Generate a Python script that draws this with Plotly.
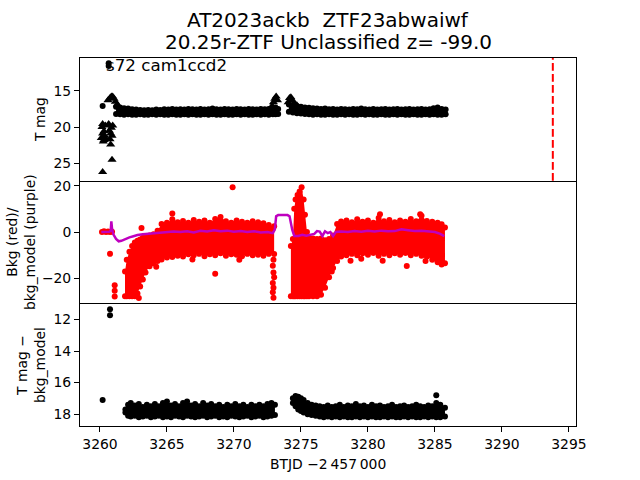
import plotly.graph_objects as go
from plotly.subplots import make_subplots

# ---------------- TOP PANEL : T mag ----------------
top_b1_t = [3261.2, 3261.5, 3261.8, 3262.1, 3262.4, 3262.7, 3263.0, 3263.3, 3263.6, 3263.9,
            3264.2, 3264.5, 3264.8, 3265.1, 3265.4, 3265.7, 3266.0, 3266.3, 3266.6, 3266.9,
            3267.2, 3267.5, 3267.8, 3268.1, 3268.4, 3268.7, 3269.0, 3269.3, 3269.6, 3269.9,
            3270.2, 3270.5, 3270.8, 3271.1, 3271.4, 3271.7, 3272.0, 3272.3, 3272.6, 3272.9,
            3273.1, 3273.3]
top_b1_hi = [17.2, 17.3, 17.4, 17.45, 17.55, 17.6, 17.65, 17.7, 17.65, 17.7,
             17.6, 17.65, 17.55, 17.6, 17.5, 17.6, 17.55, 17.6, 17.5, 17.55,
             17.6, 17.5, 17.6, 17.55, 17.45, 17.55, 17.6, 17.5, 17.55, 17.6,
             17.5, 17.55, 17.6, 17.5, 17.55, 17.6, 17.5, 17.55, 17.5, 17.4,
             17.3, 17.5]
top_b1_lo = [18.2, 18.25, 18.3, 18.25, 18.3, 18.3, 18.25, 18.3, 18.3, 18.25,
             18.3, 18.25, 18.3, 18.3, 18.25, 18.3, 18.3, 18.25, 18.3, 18.25,
             18.3, 18.3, 18.25, 18.3, 18.25, 18.3, 18.3, 18.25, 18.3, 18.3,
             18.25, 18.3, 18.25, 18.3, 18.3, 18.25, 18.3, 18.25, 18.3, 18.25,
             18.25, 18.2]
top_b2_t = [3274.1, 3274.4, 3274.7, 3275.0, 3275.3, 3275.6, 3275.9, 3276.2, 3276.5, 3276.8,
            3277.1, 3277.4, 3277.7, 3278.0, 3278.3, 3278.6, 3278.9, 3279.2, 3279.5, 3279.8,
            3280.1, 3280.4, 3280.7, 3281.0, 3281.3, 3281.6, 3281.9, 3282.2, 3282.5, 3282.8,
            3283.1, 3283.4, 3283.7, 3284.0, 3284.3, 3284.6, 3284.9, 3285.2, 3285.5, 3285.8]
top_b2_hi = [16.9, 17.0, 17.1, 17.2, 17.3, 17.35, 17.4, 17.45, 17.5, 17.45,
             17.55, 17.5, 17.6, 17.5, 17.55, 17.6, 17.5, 17.55, 17.45, 17.55,
             17.6, 17.5, 17.6, 17.55, 17.5, 17.6, 17.55, 17.5, 17.6, 17.55,
             17.5, 17.6, 17.55, 17.5, 17.6, 17.55, 17.4, 17.3, 17.5, 17.6]
top_b2_lo = [17.9, 18.0, 18.1, 18.15, 18.2, 18.25, 18.3, 18.25, 18.3, 18.3,
             18.25, 18.3, 18.3, 18.25, 18.3, 18.25, 18.3, 18.3, 18.25, 18.3,
             18.25, 18.3, 18.3, 18.25, 18.3, 18.3, 18.25, 18.3, 18.25, 18.3,
             18.3, 18.25, 18.3, 18.3, 18.25, 18.3, 18.25, 18.3, 18.3, 18.25]
tri_t = [3260.1, 3260.15, 3260.2, 3260.25, 3260.3, 3260.35, 3260.4, 3260.45, 3260.2, 3260.3,
         3260.2, 3260.65, 3260.7, 3260.75, 3260.8, 3260.85, 3260.9, 3260.95, 3260.8, 3260.9,
         3260.6, 3260.75, 3260.85, 3260.95, 3261.05, 3261.15, 3261.3,
         3272.85, 3272.95, 3273.05, 3273.15, 3273.25,
         3274.05, 3274.15, 3274.25, 3274.35, 3274.5, 3274.7]
tri_m = [21.5, 20.0, 19.6, 22.0, 20.6, 21.2, 19.8, 21.7, 20.9, 21.8,
         26.2, 19.6, 20.5, 21.7, 22.4, 20.1, 21.2, 19.8, 20.9, 24.5,
         16.3, 16.0, 15.8, 15.8, 16.1, 16.5, 16.9,
         17.1, 16.6, 16.1, 15.8, 16.3,
         16.6, 16.0, 15.9, 16.3, 16.7, 17.0]
det_t = [3260.2, 3260.65, 3260.65]
det_m = [17.1, 11.2, 11.6]
vline_x = 3293.8

# ---------------- MIDDLE PANEL : Bkg / bkg_model ----------------
bkg_s1_t = [3261.87, 3262.0, 3262.2, 3262.4, 3262.6, 3262.8, 3263.0, 3263.2, 3263.4, 3263.7,
            3264.0, 3264.3, 3264.6, 3265.0, 3265.4, 3265.8, 3266.2, 3266.6, 3267.0, 3267.4,
            3267.8, 3268.2, 3268.6, 3269.0, 3269.4, 3269.8, 3270.2, 3270.6, 3271.0, 3271.4,
            3271.8, 3272.2, 3272.6, 3273.0]
bkg_s1_hi = [-17.0, -12.0, -8.5, -6.0, -4.5, -3.8, -3.2, -2.5, -2.0, -1.5,
             -1.0, 0.5, 3.5, 4.0, 5.5, 4.2, 4.8, 4.0, 5.2, 4.4,
             5.0, 4.0, 5.6, 6.5, 4.6, 4.0, 5.0, 4.4, 4.0, 4.6,
             4.2, 3.8, 3.0, 2.5]
bkg_s1_lo = [-27.7, -27.7, -27.7, -27.7, -27.7, -26.5, -23.5, -20.5, -17.5, -14.8,
             -13.5, -12.5, -11.8, -11.0, -10.8, -10.2, -10.6, -9.6, -10.0, -9.4,
             -10.4, -9.6, -10.0, -9.2, -10.2, -9.6, -9.8, -10.4, -9.4, -10.0,
             -9.8, -10.2, -9.4, -9.5]
bkg_s2_t = [3274.25, 3274.4, 3274.5, 3274.6, 3274.75, 3274.9, 3275.05, 3275.2, 3275.3, 3275.45,
            3275.6, 3275.9, 3276.2, 3276.5, 3276.8, 3277.1, 3277.4, 3277.7, 3278.0, 3278.4,
            3278.8, 3279.2, 3279.6, 3280.0, 3280.4, 3280.8, 3281.2, 3281.6, 3282.0, 3282.4,
            3282.8, 3283.2, 3283.6, 3284.0, 3284.4, 3284.8, 3285.2, 3285.5, 3285.75]
bkg_s2_hi = [-6.0, -3.0, 10.0, 14.0, 16.0, 17.5, 19.3, 14.0, 7.5, 0.0,
             -2.5, -2.8, -3.0, -2.8, -3.5, -3.0, -1.5, 3.5, 4.5, 5.0,
             4.2, 5.5, 4.4, 5.0, 4.0, 6.0, 4.6, 5.2, 4.2, 5.0,
             4.4, 5.6, 4.6, 7.0, 4.8, 4.4, 4.0, 3.4, 2.0]
bkg_s2_lo = [-27.7, -27.7, -27.7, -27.7, -27.7, -27.7, -27.7, -27.7, -27.7, -27.7,
             -27.7, -27.7, -27.7, -27.0, -24.0, -19.5, -15.5, -12.5, -10.5, -10.0,
             -9.4, -10.0, -9.2, -9.8, -9.0, -10.2, -9.4, -10.0, -9.2, -9.8,
             -9.0, -10.0, -9.4, -10.2, -10.6, -12.0, -13.0, -14.0, -13.5]
bkg_pts_t = [3260.15, 3260.3, 3260.45, 3260.6, 3260.75, 3260.9, 3260.75, 3261.1, 3261.1, 3261.1,
             3263.1, 3265.4, 3269.9, 3268.6, 3272.95, 3272.9, 3272.95, 3273.0, 3272.9,
             3272.95, 3272.9, 3272.95, 3278.7, 3281.1, 3282.9, 3280.9, 3283.9,
             3262.9, 3264.2, 3266.9, 3270.4, 3276.0, 3277.3, 3279.5, 3284.3]
bkg_pts_v = [0.0, 0.3, 0.0, 0.2, 0.0, 0.1, -9.4, -23.0, -25.3, -27.8,
             1.7, 8.0, 19.3, -18.0, -12.0, -14.5, -17.5, -19.5, -22.0, -24.0,
             -26.0, -28.3, -12.4, -12.4, -14.6, 7.7, 7.7,
             -28.5, -15.0, -11.8, -12.0, -4.5, -17.0, -11.5, -12.5]
model_t = [3260.1, 3260.4, 3260.7, 3260.8, 3260.85, 3260.9, 3261.0, 3261.2, 3261.4, 3261.6,
           3261.9, 3262.2, 3262.5, 3262.8, 3263.2, 3263.6, 3264.0, 3264.5, 3265.0, 3265.5,
           3266.0, 3266.5, 3267.0, 3267.5, 3268.0, 3268.5, 3269.0, 3269.5, 3270.0, 3270.5,
           3271.0, 3271.5, 3272.0, 3272.5, 3272.9, 3273.05, 3273.15, 3273.3, 3274.0, 3274.15,
           3274.35, 3274.5, 3274.8, 3275.1, 3275.4, 3275.7, 3276.0, 3276.2, 3276.4, 3276.6,
           3276.8, 3277.0, 3277.2, 3277.4, 3277.6, 3278.0, 3278.5, 3279.0, 3279.5, 3280.0,
           3280.5, 3281.0, 3281.5, 3282.0, 3282.5, 3283.0, 3283.5, 3284.0, 3284.5, 3285.0,
           3285.4, 3285.7]
model_v = [0.0, 0.0, 0.1, 0.5, 4.6, 1.5, -1.0, -3.0, -4.0, -3.8,
           -3.0, -2.3, -1.8, -1.3, -1.0, -0.8, -0.5, -0.3, -0.1, 0.2,
           0.0, 0.3, -0.2, 0.5, 0.2, 0.8, 0.3, 0.6, 0.1, 0.4,
           0.0, 0.3, -0.2, 0.0, -0.5, 1.0, 6.8, 7.3, 7.3, 6.8,
           1.0, -1.7, -1.7, -1.2, -1.6, -1.3, -0.8, 0.4, 0.2, -1.7,
           0.3, -0.5, 0.0, -1.7, 0.0, 0.2, 0.0, 0.4, 0.1, 0.5,
           0.2, 0.6, 0.3, 0.4, 1.2, 0.8, 0.4, 0.6, 0.2, 0.0,
           -0.8, -1.8]

# ---------------- BOTTOM PANEL : T mag - bkg_model ----------------
dif_s1_t = [3261.9, 3262.1, 3262.3, 3262.6, 3262.9, 3263.2, 3263.5, 3263.8, 3264.1, 3264.4,
            3264.7, 3265.0, 3265.3, 3265.6, 3265.9, 3266.2, 3266.5, 3266.8, 3267.1, 3267.4,
            3267.7, 3268.0, 3268.3, 3268.6, 3268.9, 3269.2, 3269.5, 3269.8, 3270.1, 3270.4,
            3270.7, 3271.0, 3271.3, 3271.6, 3271.9, 3272.2, 3272.5, 3272.8, 3273.06]
dif_s1_hi = [17.7, 17.4, 17.3, 17.45, 17.35, 17.55, 17.4, 17.5, 17.35, 17.5,
             17.3, 17.2, 17.45, 17.35, 17.5, 17.3, 17.2, 17.45, 17.35, 17.5,
             17.3, 17.45, 17.35, 17.5, 17.4, 17.55, 17.4, 17.5, 17.35, 17.5,
             17.4, 17.55, 17.4, 17.5, 17.4, 17.5, 17.35, 17.3, 17.4]
dif_s1_lo = [17.9, 18.1, 18.15, 18.1, 18.2, 18.15, 18.1, 18.2, 18.15, 18.1,
             18.2, 18.15, 18.2, 18.1, 18.15, 18.2, 18.1, 18.15, 18.2, 18.15,
             18.1, 18.2, 18.15, 18.1, 18.2, 18.15, 18.2, 18.1, 18.15, 18.2,
             18.15, 18.1, 18.2, 18.15, 18.1, 18.2, 18.15, 18.1, 18.05]
dif_s2_t = [3274.4, 3274.6, 3274.8, 3275.0, 3275.2, 3275.5, 3275.8, 3276.1, 3276.4, 3276.7,
            3277.0, 3277.3, 3277.6, 3277.9, 3278.2, 3278.5, 3278.8, 3279.1, 3279.4, 3279.7,
            3280.0, 3280.3, 3280.6, 3280.9, 3281.2, 3281.5, 3281.8, 3282.1, 3282.4, 3282.7,
            3283.0, 3283.3, 3283.6, 3283.9, 3284.2, 3284.5, 3284.8, 3285.1, 3285.4, 3285.75]
dif_s2_hi = [17.0, 16.85, 16.9, 17.0, 17.1, 17.3, 17.4, 17.45, 17.5, 17.55,
             17.45, 17.55, 17.5, 17.4, 17.55, 17.45, 17.5, 17.35, 17.5, 17.45,
             17.55, 17.4, 17.5, 17.45, 17.55, 17.5, 17.4, 17.55, 17.5, 17.45,
             17.55, 17.5, 17.4, 17.5, 17.55, 17.45, 17.5, 17.3, 17.4, 17.6]
dif_s2_lo = [17.3, 17.5, 17.7, 17.8, 17.9, 18.0, 18.05, 18.1, 18.15, 18.2,
             18.15, 18.2, 18.15, 18.2, 18.15, 18.2, 18.2, 18.15, 18.2, 18.15,
             18.2, 18.15, 18.2, 18.2, 18.15, 18.2, 18.15, 18.2, 18.2, 18.15,
             18.2, 18.15, 18.2, 18.2, 18.15, 18.2, 18.15, 18.2, 18.2, 18.15]
dif_pts_t = [3260.2, 3260.75, 3260.75, 3285.1]
dif_pts_v = [17.1, 11.36, 11.74, 16.8]

# ---------------- ranges / ticks ----------------
x_range = [3258.51, 3295.53]
x_ticks = [3260, 3265, 3270, 3275, 3280, 3285, 3290, 3295]
top_range = [27.4, 10.48]
top_ticks = [15, 20, 25]
mid_range = [-30.75, 22.15]
mid_ticks = [-20, 0, 20]
bot_range = [18.75, 10.98]
bot_ticks = [12, 14, 16, 18]

FONT = "DejaVu Sans"
BLACK = "#000000"
RED = "#ff0000"
PURPLE = "#bf00bf"

fig = make_subplots(rows=3, cols=1, shared_xaxes=True, vertical_spacing=0)


def add_band(t, hi, lo, color, row, size=6):
    xs = list(t) + list(reversed(t))
    ys = list(hi) + list(reversed(lo))
    fig.add_trace(go.Scatter(x=xs, y=ys, mode="lines", fill="toself", fillcolor=color,
                             line=dict(width=0, color=color), hoverinfo="skip"),
                  row=row, col=1)
    fig.add_trace(go.Scatter(x=list(t) + list(t), y=list(hi) + list(lo), mode="markers",
                             marker=dict(color=color, size=size, line=dict(width=0))),
                  row=row, col=1)


add_band(top_b1_t, top_b1_hi, top_b1_lo, BLACK, 1)
add_band(top_b2_t, top_b2_hi, top_b2_lo, BLACK, 1)
fig.add_trace(go.Scatter(x=tri_t, y=tri_m, mode="markers",
                         marker=dict(symbol="triangle-up", size=8, color=BLACK, line=dict(width=0))),
              row=1, col=1)
fig.add_trace(go.Scatter(x=det_t, y=det_m, mode="markers",
                         marker=dict(size=6, color=BLACK, line=dict(width=0))), row=1, col=1)

add_band(bkg_s1_t, bkg_s1_hi, bkg_s1_lo, RED, 2)
add_band(bkg_s2_t, bkg_s2_hi, bkg_s2_lo, RED, 2)
fig.add_trace(go.Scatter(x=bkg_pts_t, y=bkg_pts_v, mode="markers",
                         marker=dict(size=6, color=RED, line=dict(width=0))), row=2, col=1)
fig.add_trace(go.Scatter(x=model_t, y=model_v, mode="lines",
                         line=dict(color=PURPLE, width=2.5)), row=2, col=1)

add_band(dif_s1_t, dif_s1_hi, dif_s1_lo, BLACK, 3)
add_band(dif_s2_t, dif_s2_hi, dif_s2_lo, BLACK, 3)
fig.add_trace(go.Scatter(x=dif_pts_t, y=dif_pts_v, mode="markers",
                         marker=dict(size=6, color=BLACK, line=dict(width=0))), row=3, col=1)

fig.add_shape(type="line", xref="x", yref="y domain", x0=vline_x, x1=vline_x, y0=0, y1=1,
              line=dict(color=RED, width=2, dash="7.7px,3.3px"))

axis_common = dict(showgrid=False, zeroline=False, showline=True, mirror=True,
                   linecolor=BLACK, linewidth=1, ticks="outside", ticklen=5, tickwidth=1,
                   tickcolor=BLACK, tickfont=dict(family=FONT, size=13.9, color=BLACK))

fig.update_xaxes(**axis_common, range=x_range, tickvals=x_ticks)
fig.update_xaxes(showticklabels=False, ticks="", row=1, col=1)
fig.update_xaxes(showticklabels=False, ticks="", mirror=False, row=2, col=1)
fig.update_xaxes(mirror=False, row=3, col=1)
fig.update_yaxes(**axis_common)
fig.update_yaxes(range=top_range, tickvals=top_ticks, row=1, col=1)
fig.update_yaxes(range=mid_range, tickvals=mid_ticks, row=2, col=1)
fig.update_yaxes(range=bot_range, tickvals=bot_ticks, row=3, col=1)

W, H = 640, 480
L, R, T, B = 80, 64, 58, 54
pw, ph = W - L - R, H - T - B


def px_x(p):
    return (p - L) / pw


def px_y(p):
    return (H - B - p) / ph


ann_font = dict(family=FONT, size=13.9, color=BLACK)
title_font = dict(family=FONT, size=20, color=BLACK)
annotations = [
    dict(text="AT2023ackb  ZTF23abwaiwf", x=px_x(328), y=px_y(20), xref="paper", yref="paper",
         showarrow=False, xanchor="center", yanchor="middle", font=title_font),
    dict(text="20.25r-ZTF Unclassified z= -99.0", x=px_x(328), y=px_y(42), xref="paper",
         yref="paper", showarrow=False, xanchor="center", yanchor="middle", font=title_font),
    dict(text="s72 cam1ccd2", x=3260.3, y=11.4, xref="x", yref="y", showarrow=False,
         xanchor="left", yanchor="middle", font=dict(family=FONT, size=16.7, color=BLACK)),
    dict(text="T mag", x=px_x(40), y=px_y(120), xref="paper", yref="paper", textangle=-90,
         showarrow=False, xanchor="center", yanchor="middle", font=ann_font),
    dict(text="Bkg (red)/<br>bkg_model (purple)", x=px_x(21), y=px_y(242), xref="paper",
         yref="paper", textangle=-90, showarrow=False, xanchor="center", yanchor="middle",
         font=ann_font),
    dict(text="T mag \u2212<br>bkg_model", x=px_x(31), y=px_y(365), xref="paper",
         yref="paper", textangle=-90, showarrow=False, xanchor="center", yanchor="middle",
         font=ann_font),
    dict(text="BTJD \u22122\u2009457\u2009000", x=px_x(328), y=px_y(464), xref="paper",
         yref="paper", showarrow=False, xanchor="center", yanchor="middle", font=ann_font),
]

fig.update_layout(width=W, height=H, margin=dict(l=L, r=R, t=T, b=B, pad=0),
                  paper_bgcolor="white", plot_bgcolor="white", showlegend=False,
                  annotations=annotations, font=dict(family=FONT, color=BLACK))

fig.write_html("out.html")
